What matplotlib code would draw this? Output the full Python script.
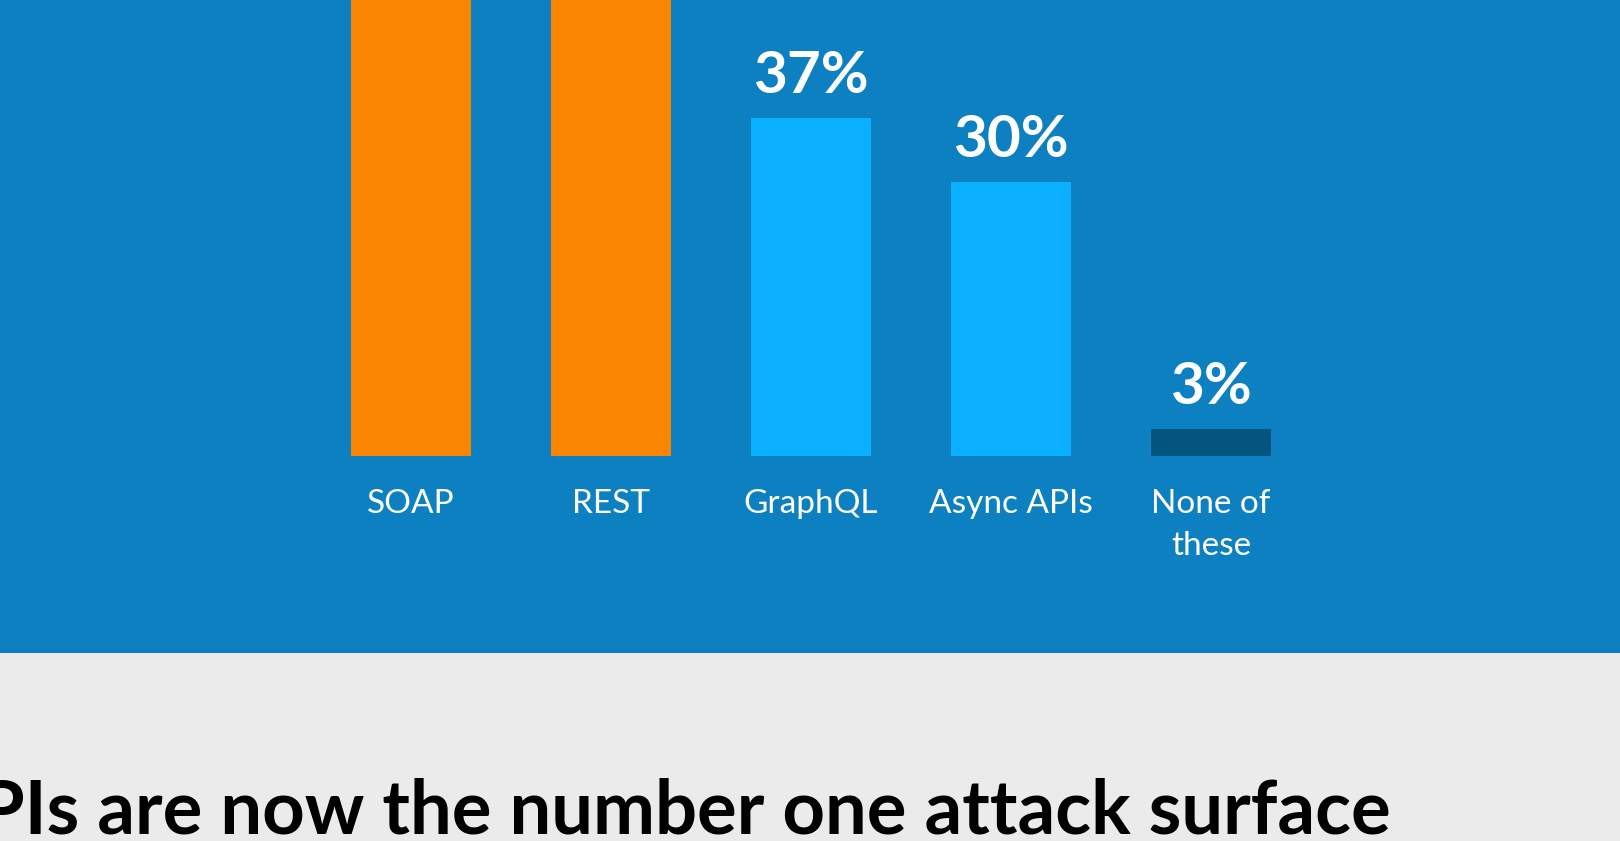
import matplotlib.pyplot as plt
from matplotlib.patches import Rectangle

# survey answers (%), SOAP and REST run off the top of the crop
categories = ["SOAP", "REST", "GraphQL", "Async APIs", "None of\nthese"]
values = [69, 94, 37, 30, 3]
bar_colors = ["#F98500", "#F98500", "#0BAFFF", "#0BAFFF", "#03547F"]
title = "APIs are now the number one attack surface"

BLUE_BG = "#0C80C0"
GRAY_BG = "#EBEBEB"

plt.rcParams["font.family"] = ["Lato", "DejaVu Sans"]

fig = plt.figure(figsize=(16.2, 8.41), dpi=100)
fig.patch.set_facecolor(GRAY_BG)
fig.add_artist(Rectangle((0, 188 / 841), 1, 1, transform=fig.transFigure,
                         facecolor=BLUE_BG, edgecolor="none", zorder=0))

ax = fig.add_axes([0, 385 / 841, 1, 456 / 841])
ax.set_facecolor("none")
x = list(range(len(categories)))
ax.bar(x, values, width=0.6, color=bar_colors, zorder=2)
ax.set_xlim(-2.055, 6.045)
ax.set_ylim(0, 456 / 9.135)

for xi, v in zip(x, values):
    ax.annotate(f"{v}%", (xi, v), xytext=(0, 18), textcoords="offset points",
                ha="center", va="baseline", color="white",
                fontsize=42, fontweight="bold")

ax.set_xticks(x, categories)
ax.tick_params(axis="x", length=0, pad=24, labelsize=24, labelcolor="white")
for lbl in ax.get_xticklabels():
    lbl.set_linespacing(1.47)
ax.set_yticks([])
for s in ax.spines.values():
    s.set_visible(False)

# the headline is cropped on the left in the source as well
fig.text(1391 / 1620, 7 / 841, title, ha="right", va="baseline",
         fontsize=53.5, fontweight="bold", color="black")

fig.savefig("out.png", dpi=100, facecolor=fig.get_facecolor())
